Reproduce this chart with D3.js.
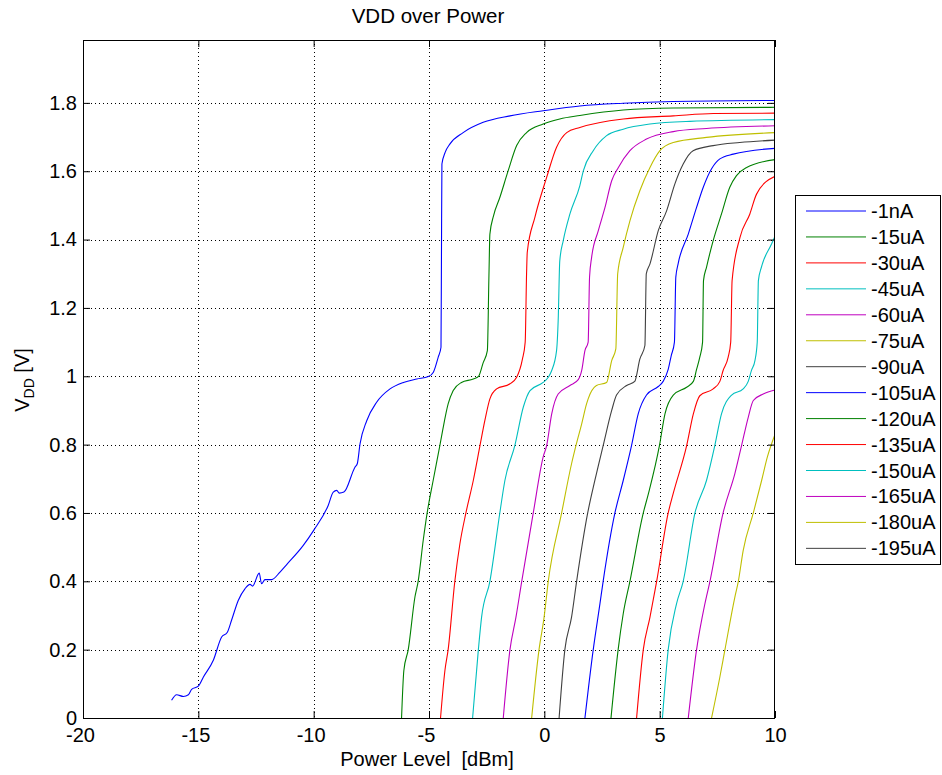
<!DOCTYPE html>
<html>
<head>
<meta charset="utf-8">
<script src="https://cdn.jsdelivr.net/npm/d3@7/dist/d3.min.js"></script>
<style>
  body { margin: 0; background: #fff; }
  svg { display: block; font-family: "Liberation Sans", Arial, Helvetica, sans-serif; }
</style>
</head>
<body>
<div id="chart"></div>
<script>
// power level [dBm] vs VDD [V], one array per load current
const cur1nA = [[-16.16,0.052],[-15.94,0.068],[-15.65,0.063],[-15.43,0.068],[-15.29,0.084],[-15.0,0.093],[-14.78,0.12],[-14.35,0.169],[-13.99,0.237],[-13.75,0.25],[-13.56,0.286],[-13.27,0.344],[-12.98,0.378],[-12.76,0.391],[-12.65,0.386],[-12.36,0.424],[-12.26,0.393],[-12.11,0.405],[-11.82,0.405],[-11.46,0.427],[-11.17,0.449],[-10.45,0.505],[-10.0,0.549],[-9.37,0.622],[-9.15,0.661],[-9.0,0.666],[-8.89,0.658],[-8.69,0.661],[-8.21,0.734],[-8.11,0.744],[-7.99,0.802],[-7.70,0.870],[-7.27,0.924],[-6.69,0.963],[-6.11,0.982],[-5.53,0.992],[-5.03,0.999],[-4.81,1.012],[-4.60,1.056],[-4.48,1.085],[-4.46,1.35],[-4.44,1.621],[-4.30,1.655],[-4.09,1.68],[-3.52,1.713],[-2.65,1.743],[-1.49,1.762],[-0.05,1.777],[1.54,1.791],[3.42,1.799],[5.59,1.804],[10,1.807]];
const cur15uA = [[-6.19,0],[-6.09,0.139],[-5.90,0.2],[-5.61,0.354],[-5.47,0.4],[-5.25,0.52],[-5.08,0.6],[-4.82,0.695],[-4.53,0.797],[-4.41,0.841],[-4.17,0.919],[-3.95,0.958],[-3.59,0.982],[-3.08,0.992],[-2.85,1.0],[-2.65,1.04],[-2.47,1.075],[-2.40,1.30],[-2.36,1.416],[-2.20,1.47],[-1.93,1.523],[-1.57,1.601],[-1.20,1.675],[-0.77,1.713],[-0.05,1.738],[0.67,1.753],[1.54,1.763],[3.42,1.779],[5.59,1.785],[10,1.787]];
const cur30uA = [[-4.50,0],[-4.31,0.139],[-4.17,0.2],[-3.88,0.4],[-3.66,0.51],[-3.40,0.6],[-3.08,0.695],[-2.79,0.797],[-2.58,0.87],[-2.36,0.934],[-2.07,0.963],[-1.49,0.978],[-1.20,0.997],[-0.95,1.05],[-0.83,1.10],[-0.77,1.30],[-0.74,1.363],[-0.41,1.465],[0.10,1.582],[0.53,1.67],[0.97,1.713],[1.54,1.728],[3.42,1.753],[5.59,1.762],[7.33,1.769],[10,1.770]];
const cur45uA = [[-3.11,0],[-2.86,0.2],[-2.72,0.295],[-2.36,0.4],[-1.93,0.6],[-1.71,0.695],[-1.28,0.797],[-0.91,0.91],[-0.62,0.958],[-0.05,0.982],[0.17,0.997],[0.32,1.017],[0.53,1.075],[0.60,1.163],[0.67,1.338],[0.82,1.397],[1.11,1.475],[1.54,1.558],[1.69,1.601],[2.12,1.660],[2.70,1.704],[3.42,1.723],[4.58,1.738],[6.31,1.746],[10,1.751]];
const cur60uA = [[-1.78,0],[-1.49,0.2],[-1.23,0.295],[-0.98,0.4],[-0.48,0.6],[-0.05,0.764],[0.10,0.797],[0.32,0.89],[0.60,0.948],[1.11,0.973],[1.47,0.99],[1.62,1.017],[1.76,1.075],[1.90,1.10],[1.96,1.29],[2.05,1.348],[2.34,1.426],[2.63,1.494],[2.92,1.572],[3.21,1.611],[3.71,1.660],[4.43,1.694],[5.59,1.716],[7.03,1.725],[10,1.733]];
const cur75uA = [[-0.55,0],[-0.23,0.2],[-0.01,0.295],[0.17,0.4],[0.75,0.6],[1.18,0.744],[1.37,0.797],[1.62,0.861],[1.83,0.919],[1.90,0.934],[2.26,0.973],[2.70,0.982],[2.92,1.046],[3.10,1.08],[3.18,1.30],[3.42,1.377],[3.71,1.455],[4.14,1.543],[4.58,1.611],[5.01,1.660],[5.59,1.684],[7.03,1.699],[10,1.713]];
const cur90uA = [[0.64,0],[0.89,0.2],[1.18,0.295],[1.40,0.4],[1.88,0.6],[2.19,0.695],[2.55,0.797],[2.92,0.9],[3.13,0.945],[3.57,0.973],[3.92,0.985],[4.14,1.05],[4.36,1.09],[4.42,1.30],[4.58,1.329],[4.94,1.426],[5.30,1.484],[5.66,1.563],[6.02,1.621],[6.45,1.660],[7.32,1.675],[8.47,1.684],[10,1.691]];
const cur105uA = [[1.76,0],[2.12,0.2],[2.41,0.334],[2.55,0.4],[3.06,0.6],[3.42,0.695],[3.78,0.797],[4.07,0.89],[4.43,0.945],[4.94,0.97],[5.15,0.985],[5.37,1.02],[5.50,1.06],[5.64,1.10],[5.70,1.29],[5.80,1.329],[6.24,1.416],[6.60,1.494],[6.89,1.553],[7.25,1.607],[7.61,1.636],[8.19,1.650],[10,1.667]];
const cur120uA = [[2.89,0],[3.20,0.2],[3.42,0.305],[3.71,0.4],[4.29,0.6],[4.51,0.656],[4.99,0.797],[5.23,0.89],[5.59,0.945],[6.17,0.968],[6.46,0.985],[6.60,1.02],[6.74,1.056],[6.86,1.10],[6.90,1.28],[7.03,1.319],[7.32,1.397],[7.68,1.475],[8.04,1.553],[8.33,1.587],[8.77,1.611],[10,1.634]];
const cur135uA = [[4.0,0],[4.29,0.2],[4.58,0.295],[4.87,0.4],[5.37,0.6],[5.60,0.66],[6.17,0.797],[6.46,0.89],[6.74,0.943],[7.32,0.963],[7.61,0.985],[7.75,1.017],[7.97,1.056],[8.08,1.10],[8.14,1.28],[8.48,1.406],[8.91,1.475],[9.2,1.533],[10,1.585]];
const cur150uA = [[5.12,0],[5.37,0.2],[5.73,0.334],[6.02,0.4],[6.53,0.6],[7.03,0.695],[7.39,0.797],[7.68,0.89],[8.12,0.945],[8.62,0.963],[8.84,0.985],[8.98,1.017],[9.13,1.046],[9.23,1.10],[9.28,1.28],[9.41,1.319],[9.85,1.387],[10,1.41]];
const cur165uA = [[6.24,0],[6.60,0.2],[6.96,0.334],[7.18,0.4],[7.75,0.6],[8.26,0.715],[8.55,0.797],[8.84,0.88],[9.06,0.929],[9.49,0.948],[10,0.96]];
const cur180uA = [[7.25,0],[7.61,0.12],[7.83,0.2],[8.26,0.354],[8.41,0.4],[8.62,0.49],[9.06,0.6],[9.42,0.695],[9.67,0.764],[10,0.83]];
const cur195uA = [[10.4,0],[10.7,0.2],[11.1,0.4]]; // starts past the right edge, only in the legend

const seriesLabels = ["-1nA","-15uA","-30uA","-45uA","-60uA","-75uA","-90uA","-105uA","-120uA","-135uA","-150uA","-165uA","-180uA","-195uA"];
const seriesValues = [cur1nA, cur15uA, cur30uA, cur45uA, cur60uA, cur75uA, cur90uA, cur105uA, cur120uA, cur135uA, cur150uA, cur165uA, cur180uA, cur195uA];

const xTicks = [-20, -15, -10, -5, 0, 5, 10];
const xTickLabels = ["-20","-15","-10","-5","0","5","10"];
const yTicks = [0, 0.2, 0.4, 0.6, 0.8, 1, 1.2, 1.4, 1.6, 1.8];
const yTickLabels = ["0","0.2","0.4","0.6","0.8","1","1.2","1.4","1.6","1.8"];

class VddChart {

  constructor(_config, _labels, _values) {
    this.config = {
      parentElement: _config.parentElement,
      width: 942,
      height: 775,
      margin: {top: 40, right: 167, bottom: 57, left: 83}
    };
    this.labels = _labels;
    this.values = _values;
    this.initVis();
  }

  initVis() {
    let vis = this;
    const m = vis.config.margin;
    vis.w = vis.config.width - m.left - m.right;
    vis.h = vis.config.height - m.top - m.bottom;

    // old matlab line colour order
    vis.colors = ["#0000ff","#008000","#ff0000","#00bfbf","#bf00bf","#bfbf00","#404040"];

    vis.svg = d3.select(vis.config.parentElement).append("svg")
      .attr("width", vis.config.width)
      .attr("height", vis.config.height);

    vis.g = vis.svg.append("g").attr("transform", `translate(${m.left},${m.top})`);

    vis.x = d3.scaleLinear().domain([-20, 10]).range([0, vis.w]);
    vis.y = d3.scaleLinear().domain([0, 1.984]).range([vis.h, 0]);

    vis.svg.append("defs").append("clipPath").attr("id", "plotClip")
      .append("rect").attr("width", vis.w).attr("height", vis.h);

    vis.renderVis();
  }

  renderVis() {
    let vis = this;
    const g = vis.g;

    // dotted grid
    g.selectAll(".gx").data(xTicks.slice(1, -1)).join("line")
      .attr("x1", d => Math.round(vis.x(d)) + 0.5).attr("x2", d => Math.round(vis.x(d)) + 0.5)
      .attr("y1", 0).attr("y2", vis.h)
      .attr("stroke", "#000").attr("stroke-dasharray", "1,3");
    g.selectAll(".gy").data(yTicks.slice(1)).join("line")
      .attr("y1", d => Math.round(vis.y(d)) + 0.5).attr("y2", d => Math.round(vis.y(d)) + 0.5)
      .attr("x1", 0).attr("x2", vis.w)
      .attr("stroke", "#000").attr("stroke-dasharray", "1,3");

    // the curves
    const line = d3.line().curve(d3.curveMonotoneX)
      .x(d => vis.x(d[0])).y(d => vis.y(d[1]));
    g.append("g").attr("clip-path", "url(#plotClip)")
      .selectAll("path").data(vis.values).join("path")
        .attr("d", line)
        .attr("fill", "none")
        .attr("stroke", (d, i) => vis.colors[i % 7])
        .attr("stroke-width", 1.1);

    // axes, ticks inside on all four sides
    const axisStyle = sel => {
      sel.select(".domain").remove();
      sel.selectAll(".tick line").attr("stroke", "#000");
      sel.selectAll(".tick text").attr("fill", "#000").style("font-size", "20px");
    };
    g.append("g").attr("transform", `translate(0,${vis.h})`)
      .call(d3.axisBottom(vis.x).tickValues(xTicks).tickSizeInner(-7).tickSizeOuter(0).tickPadding(10)
        .tickFormat((d, i) => xTickLabels[i]))
      .call(axisStyle)
      .selectAll(".tick text").attr("dx", d => d < 0 ? -3 : 0);
    g.append("g")
      .call(d3.axisTop(vis.x).tickValues(xTicks).tickSizeInner(-7).tickSizeOuter(0).tickFormat(""))
      .call(axisStyle);
    g.append("g")
      .call(d3.axisLeft(vis.y).tickValues(yTicks).tickSizeInner(-7).tickSizeOuter(0).tickPadding(6)
        .tickFormat((d, i) => yTickLabels[i]))
      .call(axisStyle);
    g.append("g").attr("transform", `translate(${vis.w},0)`)
      .call(d3.axisRight(vis.y).tickValues(yTicks).tickSizeInner(-7).tickSizeOuter(0).tickFormat(""))
      .call(axisStyle);

    g.append("rect").attr("x", 0.5).attr("y", 0.5).attr("width", vis.w - 1).attr("height", vis.h)
      .attr("fill", "none").attr("stroke", "#000");

    // titles
    vis.svg.append("text").attr("x", 428).attr("y", 23).attr("text-anchor", "middle")
      .style("font-size", "20.5px").text("VDD over Power");
    vis.svg.append("text").attr("x", 427).attr("y", 766).attr("text-anchor", "middle")
      .style("font-size", "20px").style("white-space", "pre").text("Power Level  [dBm]");

    const yl = vis.svg.append("text").attr("transform", "translate(29,380) rotate(-90)")
      .attr("text-anchor", "middle").style("font-size", "20px");
    yl.append("tspan").text("V");
    yl.append("tspan").attr("dy", 5).style("font-size", "14px").text("DD");
    yl.append("tspan").attr("dy", -5).style("white-space", "pre").text(" [V]");

    // legend
    const lg = vis.svg.append("g").attr("transform", "translate(795,195)");
    lg.append("rect").attr("x", 0.5).attr("y", 0.5).attr("width", 145).attr("height", 369)
      .attr("fill", "#fff").attr("stroke", "#000");
    const rows = lg.selectAll(".row").data(vis.labels).join("g")
      .attr("transform", (d, i) => `translate(0,${16 + i * 25.95})`);
    rows.append("line").attr("x1", 11).attr("x2", 71)
      .attr("stroke", (d, i) => vis.colors[i % 7]);
    rows.append("text").attr("x", 76).attr("y", 7).style("font-size", "20px").text(d => d);
  }
}

const chart = new VddChart({parentElement: "#chart"}, seriesLabels, seriesValues);
</script>
</body>
</html>
